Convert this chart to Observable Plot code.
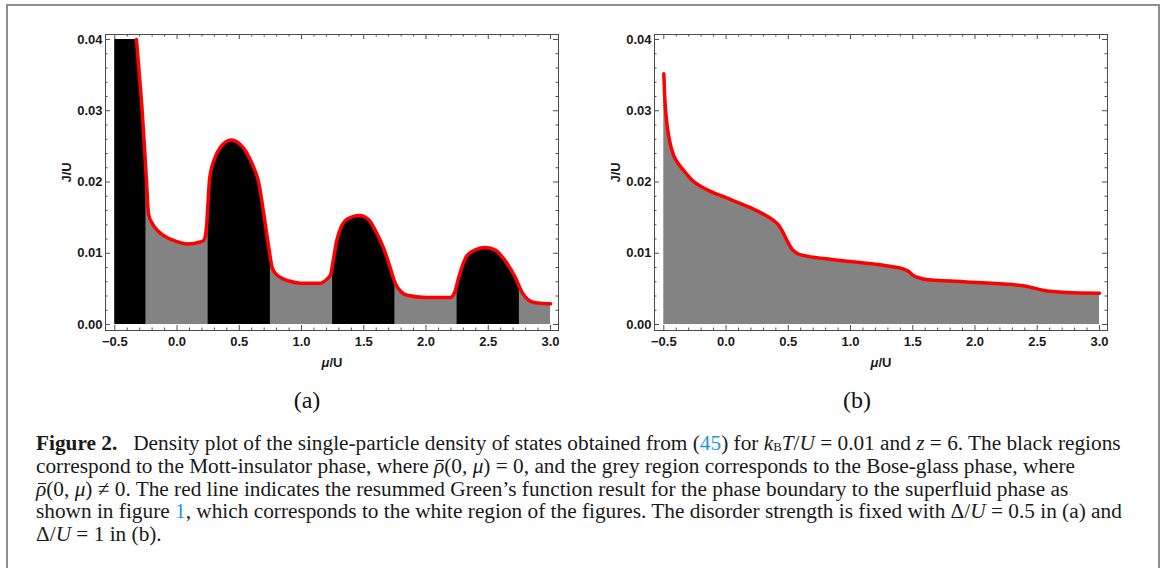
<!DOCTYPE html>
<html><head><meta charset="utf-8">
<script src="https://cdn.jsdelivr.net/npm/d3@7"></script>
<script src="https://cdn.jsdelivr.net/npm/@observablehq/plot@0.6"></script>
<style>
html,body{margin:0;padding:0;background:#fff;}
body{width:1163px;height:568px;overflow:hidden;position:relative;font-family:"Liberation Serif","Times New Roman",serif;}
#border{position:absolute;left:6px;top:4px;width:1154px;height:640px;border:2px solid #8e8e8e;box-sizing:border-box;}
.panel{position:absolute;top:20px;}
.plabel{position:absolute;top:387px;font-size:24px;width:60px;text-align:center;color:#111;}
#caption{position:absolute;left:36px;top:432px;font-size:21.3px;line-height:22.75px;color:#1a1a1a;white-space:nowrap;}
.blue{color:#2196d8;}
.ov{display:inline-block;position:relative;line-height:22.75px;}
.ov::after{content:"";position:absolute;left:2px;right:0px;top:5px;border-top:1.2px solid #1a1a1a;}
.sb{font-size:0.6em;vertical-align:-0.1em;line-height:0;}
</style></head><body>
<div id="border"></div>
<div id="pa" class="panel" style="left:45px"></div>
<div id="pb" class="panel" style="left:594px"></div>
<div class="plabel" style="left:277px">(a)</div>
<div class="plabel" style="left:827px">(b)</div>
<div id="caption"><b>Figure 2.</b>&nbsp;&nbsp; Density plot of the single-particle density of states obtained from (<span class="blue">45</span>) for <i>k</i><span class="sb">B</span><i>T</i>/<i>U</i> = 0.01 and <i>z</i> = 6. The black regions<br>correspond to the Mott-insulator phase, where <i class="ov">ρ</i>(0, <i>μ</i>) = 0, and the grey region corresponds to the Bose-glass phase, where<br><i class="ov">ρ</i>(0, <i>μ</i>) ≠ 0. The red line indicates the resummed Green’s function result for the phase boundary to the superfluid phase as<br>shown in figure <span class="blue">1</span>, which corresponds to the white region of the figures. The disorder strength is fixed with Δ/<i>U</i> = 0.5 in (a) and<br>Δ/<i>U</i> = 1 in (b).</div>
<script>
// Panel (a): phase boundary (red line), Δ/U = 0.5
const muA = [-0.326, -0.300, -0.280, -0.262, -0.245, -0.229, -0.200, -0.157, -0.100, -0.029, 0.084, 0.188, 0.215, 0.237, 0.247, 0.262, 0.300, 0.350, 0.435, 0.500, 0.560, 0.605, 0.655, 0.697, 0.737, 0.764, 0.800, 0.831, 0.900, 0.990, 1.150, 1.206, 1.234, 1.250, 1.286, 1.367, 1.468, 1.540, 1.608, 1.660, 1.703, 1.755, 1.800, 1.849, 2.000, 2.196, 2.236, 2.263, 2.330, 2.400, 2.478, 2.560, 2.625, 2.718, 2.772, 2.866, 3.000];
const jA  = [0.0400, 0.0345, 0.0300, 0.0250, 0.0200, 0.0155, 0.0142, 0.0132, 0.0124, 0.0118, 0.0113, 0.0116, 0.0118, 0.0137, 0.0165, 0.0205, 0.0232, 0.0249, 0.0259, 0.0254, 0.0241, 0.0225, 0.0200, 0.0155, 0.0108, 0.0080, 0.0070, 0.0066, 0.0061, 0.0058, 0.0058, 0.0064, 0.0070, 0.0085, 0.0120, 0.0148, 0.0153, 0.0147, 0.0127, 0.0107, 0.0085, 0.0057, 0.0046, 0.0041, 0.0038, 0.0038, 0.0048, 0.0066, 0.0097, 0.0105, 0.0108, 0.0104, 0.0092, 0.0066, 0.0045, 0.0031, 0.0029];
// Mott-insulator (black) intervals in (a)
const mottStart = [-0.5, 0.25, 1.25, 2.25];
const mottEnd   = [-0.25, 0.75, 1.75, 2.75];
// Panel (b): phase boundary, Δ/U = 1
const muB = [-0.500, -0.494, -0.486, -0.470, -0.450, -0.420, -0.380, -0.340, -0.270, -0.150, 0.000, 0.141, 0.221, 0.320, 0.381, 0.420, 0.449, 0.489, 0.529, 0.580, 0.650, 0.862, 1.130, 1.300, 1.423, 1.470, 1.503, 1.540, 1.583, 1.904, 2.304, 2.400, 2.452, 2.500, 2.545, 2.732, 3.000];
const jB  = [0.0352, 0.0325, 0.0302, 0.0275, 0.0255, 0.0237, 0.0225, 0.0216, 0.0202, 0.0189, 0.0178, 0.0168, 0.0162, 0.0153, 0.0146, 0.0140, 0.0132, 0.0118, 0.0106, 0.0099, 0.0096, 0.0091, 0.0086, 0.0082, 0.0078, 0.0074, 0.0069, 0.0066, 0.0064, 0.0060, 0.0056, 0.0054, 0.0052, 0.0050, 0.0048, 0.0045, 0.0044];
const muRange = [-0.5, 3.0];
const xMajor = [-0.5, 0.0, 0.5, 1.0, 1.5, 2.0, 2.5, 3.0];
const yMajor = [0.00, 0.01, 0.02, 0.03, 0.04];

const curveA = muA.map((m, i) => ({mu: m, j: jA[i]}));
const curveB = muB.map((m, i) => ({mu: m, j: jB[i]}));
const mott = mottStart.map((s, i) => ({s, e: mottEnd[i]}));
const yTop = d3.max(yMajor);
const xMinor = d3.range(-5, 31).map(v => v / 10).filter(v => !xMajor.includes(v));
const yMinor = d3.range(0, 21).map(v => v / 500).filter(v => !yMajor.some(m => Math.abs(m - v) < 1e-9));

const W = 530, H = 360, mL = 60, mR = 17, mT = 14, mB = 50;
const fw = W - mL - mR, fh = H - mT - mB;
const GREY = "#838383", FR = "#4d4d4d";
const crv = "monotone-x";

function frameMarks() {
  const st = {stroke: FR, strokeWidth: 1};
  return [
    Plot.frame({stroke: FR, strokeWidth: 1}),
    Plot.ruleX(xMajor, {...st, insetTop: fh - 5}),
    Plot.ruleX(xMajor, {...st, insetBottom: fh - 5}),
    Plot.ruleX(xMinor, {...st, insetTop: fh - 2.5}),
    Plot.ruleX(xMinor, {...st, insetBottom: fh - 2.5}),
    Plot.ruleY(yMajor, {...st, insetRight: fw - 5}),
    Plot.ruleY(yMajor, {...st, insetLeft: fw - 5}),
    Plot.ruleY(yMinor, {...st, insetRight: fw - 2.5}),
    Plot.ruleY(yMinor, {...st, insetLeft: fw - 2.5}),
    Plot.axisX(xMajor, {tickSize: 0, tickPadding: 6, tickFormat: d3.format(".1f"), fontSize: 13, fontWeight: "bold", label: null}),
    Plot.axisY(yMajor, {tickSize: 0, tickPadding: 3, tickFormat: d3.format(".2f"), fontSize: 13, fontWeight: "bold", label: null}),
    Plot.text(["μ/U"], {frameAnchor: "bottom", dy: 36, fontSize: 13, fontWeight: "bold"}),
    Plot.text(["J/U"], {frameAnchor: "left", dx: -39, rotate: -90, fontSize: 13, fontWeight: "bold"})
  ];
}

const common = {
  width: W, height: H, marginLeft: mL, marginRight: mR, marginTop: mT, marginBottom: mB,
  x: {domain: [-0.5747, 3.0643]},
  y: {domain: [-0.000842, 0.040702]},
  style: {fontFamily: "'Liberation Sans', Arial, sans-serif", fontSize: "13px", color: "#1a1a1a", background: "transparent"}
};

const plotA = Plot.plot({
  ...common,
  marks: [
    Plot.rect([muRange], {x1: d => d[0], x2: d => d[1], y1: 0, y2: yTop, fill: GREY}),
    Plot.rect(mott, {x1: "s", x2: "e", y1: 0, y2: yTop, fill: "black"}),
    Plot.areaY(curveA, {x: "mu", y1: "j", y2: yTop, fill: "white", curve: crv}),
    Plot.line(curveA, {x: "mu", y: "j", stroke: "#ff0000", strokeWidth: 3.5, curve: crv}),
    ...frameMarks()
  ]
});

const plotB = Plot.plot({
  ...common,
  marks: [
    Plot.areaY(curveB, {x: "mu", y: "j", fill: GREY, curve: crv}),
    Plot.line(curveB, {x: "mu", y: "j", stroke: "#ff0000", strokeWidth: 3.5, curve: crv}),
    ...frameMarks()
  ]
});

for (const p of [plotA, plotB]) {
  p.querySelectorAll("text").forEach(t => {
    if (t.textContent === "μ/U") t.innerHTML = '<tspan font-style="italic">μ</tspan>/U';
  });
}
document.getElementById("pa").appendChild(plotA);
document.getElementById("pb").appendChild(plotB);
</script>
</body></html>
